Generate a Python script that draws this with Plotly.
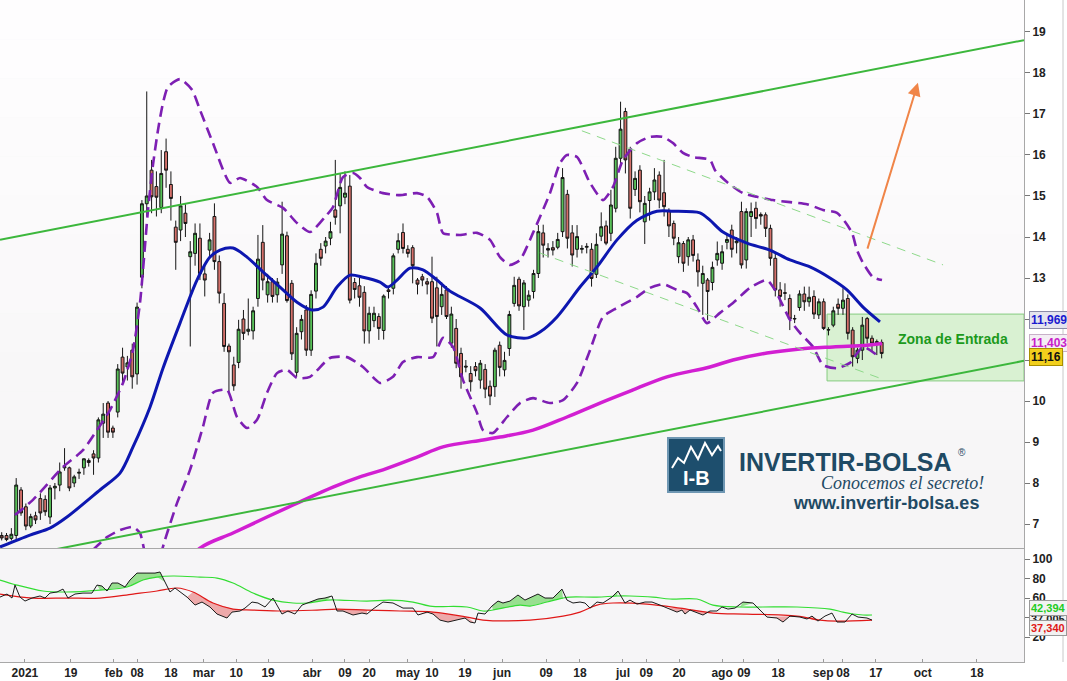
import plotly.graph_objects as go

# ---------------- price candles (one per trading day, index 0..182) ----------------
opens = [6.72, 6.72, 6.65, 6.72, 7.83, 7.42, 6.95, 7.20, 7.62, 7.60,
         7.17, 7.88, 7.95, 8.37, 8.37, 8.00, 8.24, 8.37, 8.55, 8.71,
         8.61, 9.46, 9.95, 9.34, 9.73, 11.07, 10.83, 11.24, 10.66, 13.02,
         14.81, 15.63, 15.23, 14.72, 16.08, 15.28, 14.24, 14.17, 14.58, 13.52,
         13.60, 13.97, 13.10, 13.68, 14.50, 13.40, 12.38, 11.34, 10.88, 10.94,
         12.00, 11.70, 11.71, 12.50, 13.87, 12.59, 12.91, 12.59, 13.32, 14.03,
         12.87, 10.70, 11.69, 12.22, 11.24, 12.68, 13.70, 13.78, 13.97, 14.66,
         14.76, 14.97, 15.24, 12.89, 12.81, 12.65, 11.71, 11.96, 12.06, 11.72,
         12.71, 12.75, 13.70, 14.11, 13.70, 13.74, 12.95, 13.03, 12.91, 12.91,
         12.76, 12.30, 12.71, 11.41, 11.77, 11.16, 10.85, 10.67, 10.84, 10.51,
         10.77, 10.36, 10.35, 11.36, 10.76, 11.28, 12.38, 12.97, 12.30, 12.46,
         12.67, 13.11, 14.10, 13.72, 13.74, 13.75, 14.13, 15.04, 14.10, 13.70,
         13.70, 13.75, 13.70, 13.09, 14.02, 14.27, 14.09, 14.70, 15.92, 17.06,
         16.14, 15.16, 15.63, 14.37, 14.89, 15.10, 15.51, 15.08, 14.62, 14.33,
         13.52, 13.84, 13.52, 13.93, 13.44, 12.87, 12.95, 12.89, 13.44, 13.36,
         13.87, 14.17, 13.86, 14.62, 13.44, 14.50, 14.70, 14.55, 14.54, 14.21,
         13.48, 12.71, 12.64, 12.50, 12.00, 12.28, 12.61, 12.42, 12.55, 12.10,
         12.42, 11.73, 11.85, 12.36, 12.26, 12.50, 11.73, 11.04, 11.24, 12.01,
         11.53, 11.45, 11.43]
highs = [6.80, 6.78, 6.90, 8.12, 7.90, 7.50, 7.25, 7.30, 7.75, 7.70,
         7.95, 8.00, 8.50, 8.85, 8.40, 8.20, 8.35, 8.60, 8.60, 8.80,
         9.60, 9.95, 10.00, 9.40, 10.90, 11.30, 11.10, 11.40, 12.40, 14.90,
         17.55, 15.88, 15.60, 16.12, 16.40, 15.60, 14.40, 15.00, 14.80, 13.90,
         14.33, 14.33, 13.30, 14.10, 14.82, 13.55, 12.63, 11.40, 11.08, 11.98,
         12.22, 12.50, 12.30, 14.05, 14.29, 13.10, 13.00, 13.00, 14.86, 14.13,
         12.95, 11.80, 12.10, 12.34, 12.70, 13.60, 13.85, 14.00, 14.37, 15.88,
         15.55, 15.60, 15.51, 13.00, 13.00, 12.80, 12.30, 12.30, 12.14, 12.60,
         12.80, 13.60, 14.09, 14.33, 13.80, 13.80, 13.00, 13.10, 13.00, 13.52,
         13.03, 12.90, 12.80, 12.30, 12.00, 11.30, 11.00, 10.85, 10.95, 11.00,
         10.90, 10.50, 11.30, 11.45, 11.20, 12.20, 13.03, 13.03, 12.95, 12.70,
         13.20, 14.29, 14.30, 13.85, 13.90, 14.10, 15.68, 15.15, 14.29, 14.29,
         13.80, 13.85, 13.85, 14.09, 14.60, 14.40, 15.15, 16.20, 17.30, 17.15,
         16.20, 15.60, 15.75, 15.00, 15.20, 15.68, 15.60, 15.88, 14.70, 14.40,
         14.00, 13.90, 14.00, 14.05, 13.60, 13.30, 13.00, 13.40, 13.89, 13.80,
         14.10, 14.30, 14.00, 14.86, 14.70, 14.84, 14.86, 14.60, 14.60, 14.30,
         13.60, 12.90, 12.87, 12.60, 12.10, 12.70, 12.79, 12.79, 12.70, 12.50,
         12.50, 11.80, 12.30, 12.50, 12.75, 12.60, 11.80, 11.30, 12.05, 12.05,
         11.60, 11.50, 11.50]
lows = [6.60, 6.58, 6.60, 6.60, 7.20, 6.85, 6.90, 7.00, 7.10, 7.20,
        7.00, 7.60, 7.80, 8.30, 7.80, 7.90, 8.10, 8.20, 8.40, 8.20,
        8.50, 9.10, 9.10, 9.10, 9.60, 10.40, 10.50, 10.30, 10.40, 12.75,
        14.50, 14.58, 14.50, 14.58, 15.20, 14.40, 13.20, 13.90, 14.00, 11.33,
        13.30, 12.95, 12.55, 13.50, 13.20, 12.38, 11.20, 10.20, 10.25, 10.80,
        11.49, 11.60, 11.50, 12.30, 12.70, 12.40, 12.40, 12.40, 13.10, 12.40,
        11.00, 10.59, 11.50, 11.10, 11.10, 12.50, 13.30, 13.60, 13.80, 14.30,
        14.09, 14.80, 12.38, 12.50, 12.30, 11.40, 11.40, 11.80, 11.49, 11.50,
        12.50, 12.60, 13.60, 13.60, 13.50, 12.87, 12.60, 12.80, 12.60, 11.90,
        11.33, 12.10, 12.00, 11.30, 10.80, 10.30, 10.70, 10.23, 10.60, 10.30,
        10.07, 9.90, 10.10, 10.60, 10.60, 11.10, 12.30, 12.20, 11.73, 12.30,
        12.50, 13.00, 13.50, 13.50, 13.55, 13.70, 14.00, 13.72, 13.28, 13.50,
        13.60, 13.60, 12.79, 13.00, 13.90, 13.80, 13.90, 14.60, 15.80, 15.55,
        14.45, 15.00, 14.60, 13.83, 14.40, 14.90, 14.70, 14.50, 14.00, 13.80,
        13.36, 13.15, 13.30, 13.40, 12.79, 12.10, 11.97, 12.70, 13.30, 13.20,
        13.70, 13.50, 13.60, 13.23, 13.23, 14.00, 14.20, 14.30, 14.00, 13.30,
        12.55, 12.30, 12.46, 11.73, 11.90, 12.20, 12.20, 12.30, 12.00, 12.00,
        11.73, 11.60, 11.80, 12.10, 12.10, 11.50, 10.84, 10.92, 11.00, 11.40,
        11.20, 11.12, 11.04]
closes = [6.66, 6.62, 6.75, 7.95, 7.27, 6.95, 7.18, 7.10, 7.27, 7.30,
          7.88, 7.92, 8.27, 8.40, 7.88, 8.15, 8.26, 8.59, 8.50, 8.61,
          9.54, 9.68, 9.24, 9.24, 10.78, 10.68, 10.93, 10.59, 12.29, 14.81,
          15.00, 14.98, 14.97, 15.55, 15.63, 14.94, 13.87, 14.76, 14.33, 13.64,
          14.09, 13.11, 12.95, 13.93, 13.40, 12.63, 11.33, 11.20, 10.37, 11.75,
          11.65, 11.75, 12.20, 13.46, 12.95, 12.91, 12.55, 12.90, 14.07, 12.45,
          11.15, 11.65, 11.99, 11.24, 12.60, 13.36, 13.48, 13.90, 14.13, 14.48,
          15.21, 15.07, 12.46, 12.72, 12.53, 11.71, 12.14, 12.14, 11.77, 12.56,
          12.67, 13.54, 13.91, 13.72, 13.60, 13.30, 12.85, 12.95, 12.85, 12.02,
          12.06, 12.60, 12.06, 12.12, 10.92, 10.59, 10.83, 10.47, 10.74, 10.92,
          10.29, 10.12, 11.24, 10.82, 10.99, 12.11, 12.82, 12.32, 12.88, 12.58,
          13.11, 14.13, 13.80, 13.68, 13.68, 13.94, 15.45, 13.97, 13.56, 14.01,
          13.72, 13.77, 12.99, 13.82, 14.25, 13.85, 14.78, 15.92, 16.63, 15.88,
          14.70, 15.43, 14.86, 14.82, 15.10, 15.39, 14.90, 14.74, 14.27, 13.97,
          13.86, 13.36, 13.93, 13.55, 13.15, 13.11, 12.67, 13.26, 13.60, 13.64,
          13.94, 13.70, 13.90, 13.32, 14.62, 14.62, 14.45, 14.51, 14.21, 13.48,
          12.71, 12.55, 12.63, 12.00, 12.01, 12.61, 12.42, 12.53, 12.12, 12.42,
          11.77, 11.74, 12.20, 12.26, 12.46, 11.65, 11.08, 11.24, 11.85, 11.53,
          11.41, 11.40, 11.16]
day_idx = list(range(len(closes)))

# ---------------- moving averages / envelopes (read at vertices; x = trading-day index) ----------------
ma_blue_x = [-0.35, 5.85, 9.99, 13.5, 20.33, 24.47, 27.16, 30.67, 33.36, 36.88, 40.39, 43.08, 45.15,
             47.84, 50.74, 54.04, 57.56, 61.08, 64.18, 66.45, 69.35, 72.04, 74.73, 78.24, 79.9, 81.76,
             84.45, 87.14, 90.03, 92.72, 98.93, 104.51, 108.85, 111.33, 114.85, 119.61, 123.12, 127.26,
             131.4, 135.53, 138.84, 144.42, 146.49, 149.18, 154.14, 158.9, 163.04, 167.18, 171.32,
             174.83, 178.14, 181.65]
ma_blue_y = [6.44, 6.73, 6.90, 7.17, 7.83, 8.24, 8.88, 9.85, 10.80, 11.90, 12.95, 13.51, 13.68,
             13.73, 13.51, 13.15, 12.78, 12.41, 12.22, 12.29, 12.78, 13.07, 13.02, 12.90, 12.78, 12.95,
             13.24, 13.20, 12.95, 12.68, 12.27, 11.61, 11.54, 11.68, 12.05, 12.78, 13.27, 13.93,
             14.41, 14.63, 14.63, 14.59, 14.41, 14.12, 13.85, 13.68, 13.44, 13.27, 13.00,
             12.71, 12.29, 11.93]
ma_mag_x = [34.8, 41.01, 47.84, 54.87, 61.7, 68.52, 74.1, 78.86, 85.9, 91.27, 99.55, 103.06, 109.89,
            116.92, 123.74, 130.57, 137.6, 146.49, 151.25, 158.28, 165.11, 171.94, 178.97, 182.07]
ma_mag_y = [5.63, 6.41, 6.78, 7.17, 7.54, 7.90, 8.15, 8.32, 8.63, 8.88, 9.05, 9.12, 9.29,
            9.61, 9.95, 10.27, 10.59, 10.83, 11.00, 11.17, 11.27, 11.32, 11.36, 11.40]
band_up_x = [2.75, 6.47, 12.68, 16.81, 19.71, 22.4, 25.09, 27.16, 28.6, 29.23, 30.26, 31.29, 32.33,
             33.36, 34.39, 36.88, 39.36, 41.01, 43.7, 47.22, 49.29, 52.81, 54.87, 58.18, 61.08, 63.77,
             66.87, 68.52, 70.59, 72.66, 74.1, 75.55, 78.86, 82.38, 85.9, 87.97, 90.03, 91.27, 94.79,
             98.31, 100.99, 103.06, 105.13, 107.2, 109.89, 113.4, 115.47, 116.92, 118.99, 121.68,
             124.36, 126.43, 128.5, 131.4, 134.08, 136.77, 138.84, 140.91, 142.98, 146.49, 147.53,
             150.01, 153.31, 156.21, 159.52, 163.04, 166.56, 169.87, 172.76, 174.42, 175.87, 176.9,
             178.14, 180.2, 182.07]
band_up_y = [7.22, 7.59, 8.39, 8.80, 9.29, 9.78, 10.44, 11.24, 12.39, 13.20, 14.66, 15.76, 16.61,
             17.27, 17.66, 17.85, 17.59, 17.10, 16.29, 15.32, 15.44, 15.22, 14.90, 14.71, 14.34, 14.12,
             14.49, 14.73, 15.46, 15.56, 15.44, 15.22, 15.07, 15.02, 15.07, 14.98, 14.59, 14.10, 14.05,
             14.10, 13.93, 13.51, 13.32, 13.44, 14.10, 15.07, 15.80, 16.00, 15.95, 15.32,
             14.90, 15.22, 15.88, 16.29, 16.44, 16.44, 16.29, 16.05, 15.95, 15.88, 15.63,
             15.34, 15.07, 14.98, 14.90, 14.85, 14.80, 14.66, 14.59, 14.37, 14.10, 13.68,
             13.37, 13.02, 12.95]
band_lo_x = [18.88, 21.78, 24.47, 27.16, 28.6, 29.84, 31.09, 32.33, 33.77, 36.26, 38.95, 41.63, 43.7,
             46.6, 48.67, 50.74, 52.81, 54.87, 56.94, 59.01, 61.08, 63.77, 67.9, 71.41, 74.73, 78.24,
             80.93, 83.0, 85.9, 89.21, 91.27, 93.34, 95.41, 98.31, 99.55, 101.61, 104.51, 107.2,
             109.89, 113.4, 116.09, 118.99, 121.68, 124.36, 127.26, 131.4, 134.08, 136.77, 139.67,
             141.74, 143.8, 145.87, 148.56, 151.25, 154.76, 158.28, 159.93, 163.04, 165.11, 167.8,
             169.87, 172.76, 175.45, 178.14, 181.03]
band_lo_y = [6.37, 6.68, 6.85, 6.93, 6.78, 6.12, 5.15, 6.00, 6.61, 7.51, 8.32, 9.37, 10.20,
             10.27, 9.61, 9.34, 9.54, 10.20, 10.68, 10.76, 10.56, 10.59, 11.05, 11.07, 10.83, 10.44,
             10.59, 10.95, 11.07, 11.07, 11.54, 11.32, 10.51, 9.71, 9.29, 9.22, 9.61, 9.95,
             10.07, 9.95, 10.02, 10.44, 11.24, 12.05, 12.27, 12.54, 12.76, 12.85, 12.71,
             12.63, 12.29, 11.90, 12.15, 12.39, 12.76, 12.95, 12.71, 11.98, 11.66, 11.32,
             10.88, 10.80, 10.93, 11.32, 11.12]

# ---------------- lower oscillator panel ----------------
osc_x = [-0.35, 1.1, 2.13, 2.75, 3.78, 4.82, 6.27, 7.92, 8.96, 9.99, 11.44, 12.68, 13.71, 15.16, 16.81,
         18.68, 19.71, 20.74, 21.78, 22.81, 24.05, 25.5, 26.54, 27.98, 30.05, 31.71, 32.74, 33.77,
         34.81, 35.84, 36.88, 38.33, 39.98, 41.43, 43.08, 44.53, 46.6, 47.64, 49.29, 50.32, 51.77,
         53.01, 54.46, 56.11, 57.97, 59.21, 60.66, 62.11, 63.77, 65.42, 66.87, 68.31, 69.35, 70.59,
         72.66, 74.52, 75.55, 76.79, 78.86, 80.93, 83.0, 85.07, 86.1, 87.97, 89.21, 90.65, 92.31,
         93.76, 95.83, 96.86, 97.89, 98.51, 99.96, 101.4, 102.65, 103.68, 105.13, 106.78, 108.23,
         110.92, 112.37, 114.02, 115.88, 116.92, 118.16, 119.61, 120.64, 121.68, 123.12, 124.36,
         126.23, 127.47, 128.91, 129.95, 131.4, 133.05, 134.5, 136.15, 137.6, 139.67, 140.7, 141.32,
         142.36, 143.8, 145.04, 146.49, 147.94, 148.97, 150.21, 151.66, 153.31, 155.38, 156.83,
         158.28, 160.35, 161.59, 163.04, 165.11, 166.56, 167.59, 168.83, 170.28, 171.73, 172.76,
         174.42, 175.87, 177.11, 178.97, 180.01]
osc_v = [61.0, 64.1, 60.0, 73.3, 61.0, 56.9, 60.0, 62.1, 60.0, 65.1, 66.2, 69.2, 60.0, 64.1, 65.1,
         65.1, 73.3, 72.3, 67.2, 75.4, 75.4, 71.3, 78.5, 85.6, 85.6, 85.6, 86.7, 76.4,
         66.2, 70.3, 66.2, 61.0, 52.8, 55.9, 50.8, 43.6, 39.5, 45.6, 46.7, 49.7, 55.9,
         54.9, 50.8, 60.0, 43.6, 46.7, 43.6, 52.8, 55.9, 59.0, 60.0, 62.1, 46.7, 46.7,
         42.6, 44.6, 43.6, 48.7, 55.9, 54.9, 49.7, 49.7, 42.6, 45.6, 43.6, 37.4, 35.4,
         37.4, 39.5, 35.4, 34.4, 44.6, 43.6, 51.8, 56.9, 54.9, 56.9, 63.1, 57.9,
         64.1, 60.0, 60.0, 69.2, 57.9, 54.9, 55.9, 54.9, 49.7, 55.9, 54.9,
         61.0, 67.2, 54.9, 57.9, 53.8, 55.9, 55.9, 52.8, 49.7, 45.6, 47.7, 43.6,
         47.7, 44.6, 42.6, 46.7, 46.7, 50.8, 48.7, 49.7, 55.9, 54.9, 47.7,
         40.5, 39.5, 35.4, 41.5, 40.5, 38.5, 41.5, 36.4, 41.5, 44.6, 35.4,
         35.4, 43.6, 40.5, 39.5, 37.4]
sig_up_x = [-0.35, 3.16, 8.54, 13.5, 20.33, 25.92, 29.23, 32.12, 35.43, 41.01, 44.53, 47.84, 51.98,
            56.11, 60.25, 63.15, 67.28, 69.97, 75.55, 80.31, 85.07, 88.59, 96.24, 99.55, 101.61, 107.2,
            109.27, 112.78, 116.09, 117.54, 123.12, 127.26, 129.95, 134.7, 138.22, 143.8, 147.11,
            152.69, 157.45, 164.49, 171.32, 174.0, 176.07, 178.14, 180.01]
sig_up_v = [78.5, 73.3, 67.2, 66.2, 68.2, 71.3, 78.5, 81.5, 82.6, 81.5, 80.5, 75.4, 65.1,
            57.9, 54.9, 54.9, 57.9, 57.9, 56.9, 57.9, 55.9, 51.8, 50.8, 46.7, 47.7, 52.8,
            51.8, 55.9, 60.0, 61.0, 61.0, 62.1, 62.1, 61.0, 59.0, 59.0, 52.8,
            50.8, 50.8, 50.8, 48.7, 45.6, 43.6, 42.6, 42.6]
sig_lo_x = [-0.35, 6.47, 13.5, 20.33, 27.16, 32.12, 36.26, 39.57, 43.7, 47.84, 51.98, 58.18, 65.21,
            69.35, 75.55, 82.38, 89.21, 96.24, 99.55, 109.27, 116.09, 119.61, 123.12, 126.43, 133.46,
            140.29, 147.11, 154.14, 164.49, 169.25, 172.76, 180.01]
sig_lo_v = [64.1, 60.0, 60.0, 60.0, 64.1, 67.2, 70.3, 66.2, 54.9, 48.7, 47.7, 46.7, 47.7,
            48.7, 47.7, 46.7, 45.6, 40.5, 37.4, 37.4, 41.5, 45.6, 52.8, 54.9, 53.8,
            49.7, 44.6, 43.6, 41.5, 37.4, 36.4, 37.4]
# index spans where the oscillator is above the upper / below the lower signal line
green_spans = [(19.3, 34.2), (61.8, 68.8), (100.8, 116.4), (126.0, 128.5), (152.6, 155.9)]
red_spans = [(38.0, 49.6), (57.5, 61.2), (69.0, 76.2), (85.8, 98.2), (136.5, 147.5), (157.5, 169.2), (172.5, 175.0)]

# ---------------- drawn annotations (data coordinates) ----------------
trend_hi = dict(x=[-0.35, 211.44], y=[13.93, 18.80])
trend_lo = dict(x=[-0.35, 211.44], y=[6.12, 10.98])
chan_hi = dict(x=[120.0, 194.7], y=[16.59, 13.32])
chan_lo = dict(x=[111.3, 182.7], y=[13.61, 10.51])
zone = dict(x=[170.7, 211.44], y=[10.49, 12.12])
arrow = dict(x=[178.97, 189.5], y=[13.68, 17.76])

# ---------------- axis labels ----------------
tick_text = ['2021', '19', 'feb', '08', '18', 'mar', '10', '19', 'abr', '09', '20', 'may', '10', '19',
             'jun', '09', '18', 'jul', '09', '20', 'ago', '09', '18', 'sep', '08', '17', 'oct', '18']
tick_pos = [4.8, 14.3, 23.2, 28.0, 35.0, 41.8, 48.5, 55.1, 64.2, 71.0, 76.0, 84.0, 89.0, 95.8,
            103.5, 112.6, 119.6, 128.5, 133.3, 140.1, 149.0, 153.5, 160.6, 169.9, 174.0, 180.8, 190.5, 201.7]
price_ticks = [7, 8, 9, 10, 11, 12, 13, 14, 15, 16, 17, 18, 19]
price_text = ['7', '8', '9', '10', '', '', '13', '14', '15', '16', '17', '18', '19']
osc_ticks = [20, 40, 60, 80, 100]
osc_text = ['20', '', '60', '80', '100']
last_vals = dict(blue=11.969, mag=11.403, close=11.16, up=42.394, mid=37.005, lo=37.340)

# ---------------- figure ----------------
W, H = 1067, 681
PW, PH = 1024, 662
def pxx(x): return x / PW
def pyy(y): return 1 - y / PH

main_dom = [pyy(548), 1.0]
low_dom = [0.0, pyy(549)]
XR = [-0.35, 211.44]

fig = go.Figure()

fig.add_trace(go.Candlestick(
    x=day_idx, open=opens, high=highs, low=lows, close=closes,
    increasing=dict(fillcolor='#58c058', line=dict(color='#151515', width=1)),
    decreasing=dict(fillcolor='#d4706a', line=dict(color='#151515', width=1)),
    whiskerwidth=0, hoverinfo='skip', showlegend=False, xaxis='x', yaxis='y'))

fig.add_trace(go.Scatter(x=band_up_x, y=band_up_y, mode='lines', line=dict(color='#7d1fb3', width=2.6, dash='11px,6px', shape='spline', smoothing=0.6), showlegend=False, hoverinfo='skip'))
fig.add_trace(go.Scatter(x=band_lo_x, y=band_lo_y, mode='lines', line=dict(color='#7d1fb3', width=2.6, dash='11px,6px', shape='spline', smoothing=0.6), showlegend=False, hoverinfo='skip'))
fig.add_trace(go.Scatter(x=ma_mag_x, y=ma_mag_y, mode='lines', line=dict(color='#d21fd2', width=3.5, shape='spline'), showlegend=False, hoverinfo='skip'))
fig.add_trace(go.Scatter(x=ma_blue_x, y=ma_blue_y, mode='lines', line=dict(color='#0d17b0', width=3, shape='spline', smoothing=0.8), showlegend=False, hoverinfo='skip'))

# oscillator fills
def span_pts(xs, vs, a, b):
    px_, pv_ = [], []
    for xv, vv in zip(xs, vs):
        if a <= xv <= b:
            px_.append(xv); pv_.append(vv)
    return px_, pv_

for a, b in green_spans:
    bx, bv = span_pts(osc_x, osc_v, a, b)
    gx, gv = span_pts(sig_up_x, sig_up_v, a, b)
    fig.add_trace(go.Scatter(x=bx + gx[::-1], y=bv + gv[::-1], fill='toself', mode='lines',
                             line=dict(width=0), fillcolor='rgba(120,215,110,0.75)',
                             xaxis='x2', yaxis='y2', showlegend=False, hoverinfo='skip'))
for a, b in red_spans:
    bx, bv = span_pts(osc_x, osc_v, a, b)
    rx, rv = span_pts(sig_lo_x, sig_lo_v, a, b)
    fig.add_trace(go.Scatter(x=bx + rx[::-1], y=bv + rv[::-1], fill='toself', mode='lines',
                             line=dict(width=0), fillcolor='rgba(235,150,150,0.8)',
                             xaxis='x2', yaxis='y2', showlegend=False, hoverinfo='skip'))

fig.add_trace(go.Scatter(x=sig_up_x, y=sig_up_v, mode='lines', line=dict(color='#33dd33', width=1.2, shape='spline'), xaxis='x2', yaxis='y2', showlegend=False, hoverinfo='skip'))
fig.add_trace(go.Scatter(x=sig_lo_x, y=sig_lo_v, mode='lines', line=dict(color='#e01818', width=1.2, shape='spline'), xaxis='x2', yaxis='y2', showlegend=False, hoverinfo='skip'))
fig.add_trace(go.Scatter(x=osc_x, y=osc_v, mode='lines', line=dict(color='#1a1a1a', width=1), xaxis='x2', yaxis='y2', showlegend=False, hoverinfo='skip'))

shapes = []
# soft vertical gradient in the price panel
nb = 14
for k in range(nb):
    t0 = main_dom[1] - (main_dom[1] - main_dom[0]) * k / nb
    t1 = main_dom[1] - (main_dom[1] - main_dom[0]) * (k + 1) / nb
    f = (k + 0.5) / nb
    c = int(255 - 9 * f)
    shapes.append(dict(type='rect', xref='paper', yref='paper', x0=0, x1=1, y0=t1, y1=t0,
                       fillcolor=f'rgb({c},{c-1},{c})', line=dict(width=0), layer='below'))
shapes.append(dict(type='rect', xref='x', yref='y', x0=zone['x'][0], x1=zone['x'][1], y0=zone['y'][0], y1=zone['y'][1],
                   fillcolor='#d9f1d2', line=dict(color='#86cc80', width=1), layer='below'))
for ln in (trend_hi, trend_lo):
    shapes.append(dict(type='line', xref='x', yref='y', x0=ln['x'][0], x1=ln['x'][1], y0=ln['y'][0], y1=ln['y'][1],
                       line=dict(color='#3cb73c', width=2)))
for ln in (chan_hi, chan_lo):
    shapes.append(dict(type='line', xref='x', yref='y', x0=ln['x'][0], x1=ln['x'][1], y0=ln['y'][0], y1=ln['y'][1],
                       line=dict(color='#8ed98a', width=1, dash='9px,7px')))
# logo badge
shapes.append(dict(type='rect', xref='paper', yref='paper', x0=pxx(668), x1=pxx(724), y0=pyy(492), y1=pyy(438),
                   fillcolor='#1d4e6d', line=dict(color='#6f97b3', width=2)))
mountain = [(672, 468), (678, 458), (684, 463), (691, 447), (698, 459), (705, 443), (712, 455), (718, 446), (721, 451)]
path = 'M ' + ' L '.join(f'{pxx(a):.5f},{pyy(b):.5f}' for a, b in mountain)
shapes.append(dict(type='path', xref='paper', yref='paper', path=path, line=dict(color='white', width=2)))
# right frame line
shapes.append(dict(type='line', xref='paper', yref='paper', x0=pxx(1063), x1=pxx(1063), y0=0, y1=1,
                   line=dict(color='#c8c8c8', width=1)))

bold = 'bold'
ann = []
def val_box(y, yref, text, color, bg, border, yshift=0, size=12):
    ann.append(dict(xref='paper', x=1, xanchor='left', xshift=5, yref=yref, y=y, yshift=yshift,
                    text=text, showarrow=False, font=dict(family='Liberation Sans', size=size, color=color, weight=bold),
                    bgcolor=bg, bordercolor=border, borderwidth=1, borderpad=1))
val_box(last_vals['blue'], 'y', '11,969', '#1a1ad0', '#e4e4ee', '#8c8ca8')
val_box(last_vals['mag'], 'y', '11,403', '#c81fc8', '#f4eef4', '#c8b0c8')
val_box(last_vals['close'], 'y', '11,16', '#111111', '#f2cf1c', '#a88f00', yshift=-4)
val_box(last_vals['mid'], 'y2', '37,005', '#222222', '#f2f2f2', '#999999', yshift=1, size=11)
val_box(last_vals['up'], 'y2', '42,394', '#22cc22', '#f2f2f2', '#999999', yshift=7, size=11)
val_box(last_vals['lo'], 'y2', '37,340', '#e01818', '#f2f2f2', '#999999', yshift=-8, size=11)

ann.append(dict(xref='x', yref='y', x=196.7, y=11.51, text='Zona de Entrada', showarrow=False,
                font=dict(family='Liberation Sans', size=14, color='#1c9a1c', weight=bold)))
ann.append(dict(xref='x', yref='y', x=arrow['x'][1], y=arrow['y'][1], ax=arrow['x'][0], ay=arrow['y'][0],
                axref='x', ayref='y', text='', showarrow=True, arrowhead=2, arrowsize=1.3, arrowwidth=2,
                arrowcolor='#f08548'))
ann.append(dict(xref='paper', yref='paper', x=pxx(737), y=pyy(462), xanchor='left', yanchor='middle',
                text='INVERTIR-BOLSA', showarrow=False,
                font=dict(family='Liberation Sans', size=25, color='#1f4a64', weight=bold)))
ann.append(dict(xref='paper', yref='paper', x=pxx(962), y=pyy(452), xanchor='center', yanchor='middle',
                text='®', showarrow=False, font=dict(family='Liberation Sans', size=10, color='#1f4a64')))
ann.append(dict(xref='paper', yref='paper', x=pxx(902), y=pyy(483), xanchor='center', yanchor='middle',
                text='<i>Conocemos el secreto!</i>', showarrow=False,
                font=dict(family='Liberation Serif', size=18, color='#1f4a64')))
ann.append(dict(xref='paper', yref='paper', x=pxx(886), y=pyy(503), xanchor='center', yanchor='middle',
                text='www.invertir-bolsa.es', showarrow=False,
                font=dict(family='Liberation Sans', size=18, color='#1f4a64', weight=bold)))
ann.append(dict(xref='paper', yref='paper', x=pxx(696), y=pyy(478), xanchor='center', yanchor='middle',
                text='I-B', showarrow=False,
                font=dict(family='Liberation Sans', size=20, color='white', weight=bold)))

tickfont = dict(family='Liberation Sans', size=12, color='#222222', weight=bold)
fig.update_layout(
    width=W, height=H, margin=dict(l=0, r=43, t=0, b=19),
    paper_bgcolor='white', plot_bgcolor='#f6f5f7', showlegend=False,
    shapes=shapes, annotations=ann,
    xaxis=dict(domain=[0, 1], range=XR, anchor='y', showticklabels=False, showgrid=False, zeroline=False,
               showline=True, linecolor='#a8a8a8', linewidth=1, rangeslider=dict(visible=False), fixedrange=True),
    yaxis=dict(domain=main_dom, range=[6.415, 19.78], side='right', tickvals=price_ticks, ticktext=price_text,
               ticks='outside', ticklen=5, tickcolor='#777', showgrid=False, zeroline=False,
               showline=True, linecolor='#a8a8a8', tickfont=tickfont),
    xaxis2=dict(domain=[0, 1], range=XR, anchor='y2', matches='x', tickvals=tick_pos, ticktext=tick_text,
                ticks='inside', ticklen=3, tickcolor='#999', showgrid=False, zeroline=False,
                showline=True, linecolor='#a8a8a8', mirror=True, tickfont=tickfont),
    yaxis2=dict(domain=low_dom, range=[-5.6, 110.3], side='right', anchor='x2', tickvals=osc_ticks, ticktext=osc_text,
                ticks='outside', ticklen=5, tickcolor='#777', showgrid=False, zeroline=False,
                showline=True, linecolor='#a8a8a8', tickfont=tickfont),
    boxgap=0.15,
)

fig.write_html('out.html', config={'displayModeBar': False},
               post_script="document.body.style.margin='0px';document.body.style.overflow='hidden';")
